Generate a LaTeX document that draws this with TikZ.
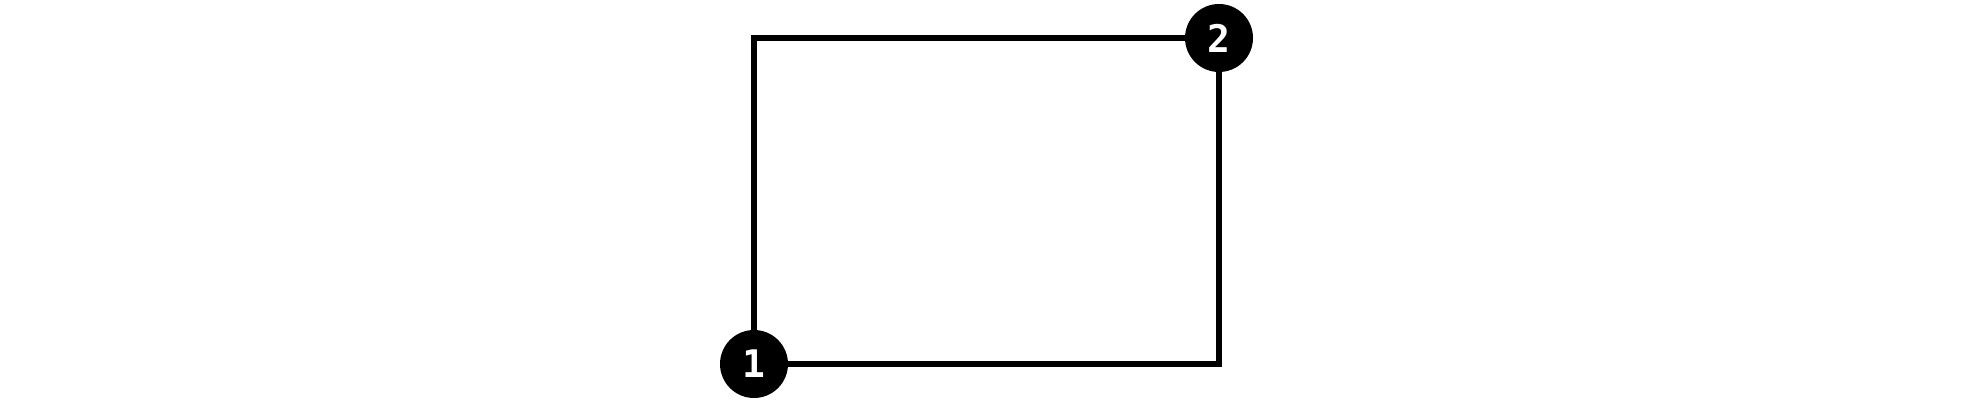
\documentclass[tikz,border=0pt]{standalone}
\usepackage{fontspec}
\setmonofont{DejaVu Sans Mono}
\usepackage{tikz}
\usetikzlibrary{positioning}

\tikzset{
    marker/.style={circle, fill=black, minimum size=34pt, inner sep=0pt,
        text=white, font=\ttfamily\bfseries\fontsize{19}{19}\selectfont},
    edge/.style={line width=3pt, black}
}

\begin{document}
\begin{tikzpicture}[x=0.5pt, y=-0.5pt]
    \useasboundingbox (0,0) rectangle (1974,400);
    % numbered markers
    \node[marker] (one) at (754,364) {1};
    \node[marker] (two) at (1219,38) {2};
    % corners of the frame
    \coordinate (topleft) at (754,38);
    \coordinate (botright) at (1219,364);
    \draw[edge] (one) -- (topleft) -- (two);
    \draw[edge] (two) -- (botright) -- (one);
\end{tikzpicture}
\end{document}
